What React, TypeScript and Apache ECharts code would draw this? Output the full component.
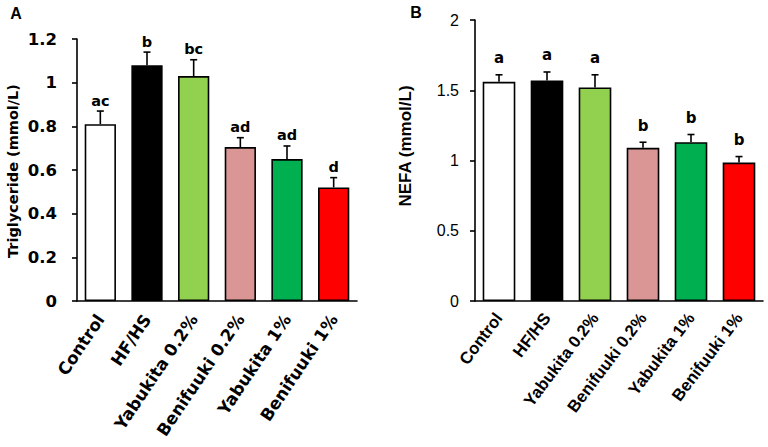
import React, { useEffect, useRef } from "react";
import * as echarts from "echarts";

const categories = ["Control", "HF/HS", "Yabukita 0.2%", "Benifuuki 0.2%", "Yabukita 1%", "Benifuuki 1%"];
const barColors = ["#FFFFFF", "#000000", "#92D050", "#D99694", "#00B050", "#FF0000"];

const tgMean = [0.81, 1.08, 1.03, 0.705, 0.65, 0.52];
const tgSE = [0.06, 0.06, 0.075, 0.043, 0.06, 0.045];
const tgLetters = ["ac", "b", "bc", "ad", "ad", "d"];

const nefaMean = [1.56, 1.57, 1.52, 1.09, 1.13, 0.985];
const nefaSE = [0.05, 0.06, 0.09, 0.04, 0.055, 0.043];
const nefaLetters = ["a", "a", "a", "b", "b", "b"];

const FA = "'DejaVu Sans', Verdana, sans-serif";
const FB = "'Liberation Sans', Arial, sans-serif";

function errSeries(xi: number, mean: number[], se: number[], letters: string[], font: string, fs: number, off: number) {
  return {
    type: "custom",
    xAxisIndex: xi,
    yAxisIndex: xi,
    z: 5,
    silent: true,
    data: mean.map((m, i) => [i, m, m + se[i], letters[i]]),
    renderItem: (params: any, api: any) => {
      const i = api.value(0);
      const p0 = api.coord([i, api.value(1)]);
      const p1 = api.coord([i, api.value(2)]);
      const letter = letters[params.dataIndex];
      return {
        type: "group",
        children: [
          { type: "line", shape: { x1: p0[0], y1: p0[1], x2: p1[0], y2: p1[1] }, style: { stroke: "#000", lineWidth: 1.6 } },
          { type: "line", shape: { x1: p1[0] - 3.5, y1: p1[1], x2: p1[0] + 3.5, y2: p1[1] }, style: { stroke: "#000", lineWidth: 1.6 } },
          {
            type: "text",
            x: p1[0],
            y: p1[1] - off,
            style: { text: letter, fontFamily: font, fontWeight: "bold", fontSize: fs, fill: "#000", align: "center", verticalAlign: "middle" },
          },
        ],
      };
    },
  };
}

export default function App() {
  const ref = useRef<HTMLDivElement>(null);
  useEffect(() => {
    document.body.style.margin = "0";
    const chart = echarts.init(ref.current!, null, { renderer: "svg" });
    const axisLine = { show: true, lineStyle: { color: "#000", width: 1.6 } };
    chart.setOption({
      animation: false,
      backgroundColor: "#fff",
      grid: [
        { left: 77, top: 39, width: 280, height: 262 },
        { left: 475, top: 20, width: 288, height: 281 },
      ],
      xAxis: [
        {
          type: "category", gridIndex: 0, data: categories,
          axisLine, axisTick: { show: false },
          axisLabel: { rotate: 56, margin: 15, interval: 0, fontFamily: FA, fontWeight: "bold", fontSize: 16.8, color: "#000" },
        },
        {
          type: "category", gridIndex: 1, data: categories,
          axisLine, axisTick: { show: false },
          axisLabel: { rotate: 53, margin: 14, interval: 0, fontFamily: FB, fontWeight: "bold", fontSize: 16.8, color: "#000" },
        },
      ],
      yAxis: [
        {
          type: "value", gridIndex: 0, min: 0, max: 1.2, interval: 0.2,
          axisLine, axisTick: { show: true, length: 5, lineStyle: { color: "#000", width: 1.6 } },
          splitLine: { show: false },
          axisLabel: { margin: 20, fontFamily: FA, fontWeight: "bold", fontSize: 16.5, color: "#000" },
        },
        {
          type: "value", gridIndex: 1, min: 0, max: 2, interval: 0.5,
          axisLine, axisTick: { show: true, length: 5, lineStyle: { color: "#000", width: 1.6 } },
          splitLine: { show: false },
          axisLabel: { margin: 16, fontFamily: FB, fontSize: 16, color: "#000" },
        },
      ],
      graphic: [
        { type: "text", x: 16, y: 13, style: { text: "A", fontFamily: FB, fontWeight: "bold", fontSize: 16, fill: "#000", align: "center", verticalAlign: "middle" } },
        { type: "text", x: 416, y: 12, style: { text: "B", fontFamily: FB, fontWeight: "bold", fontSize: 16, fill: "#000", align: "center", verticalAlign: "middle" } },
        { type: "text", x: 13, y: 171, rotation: Math.PI / 2, style: { text: "Triglyceride (mmol/L)", fontFamily: FA, fontWeight: "bold", fontSize: 14.5, fill: "#000", align: "center", verticalAlign: "middle" } },
        { type: "text", x: 405, y: 146, rotation: Math.PI / 2, style: { text: "NEFA (mmol/L)", fontFamily: FB, fontWeight: "bold", fontSize: 17, fill: "#000", align: "center", verticalAlign: "middle" } },
      ],
      series: [
        {
          type: "bar", xAxisIndex: 0, yAxisIndex: 0, barCategoryGap: "33%",
          data: tgMean.map((v, i) => ({ value: v, itemStyle: { color: barColors[i], borderColor: "#000", borderWidth: 1.6 } })),
        },
        {
          type: "bar", xAxisIndex: 1, yAxisIndex: 1, barCategoryGap: "32%",
          data: nefaMean.map((v, i) => ({ value: v, itemStyle: { color: barColors[i], borderColor: "#000", borderWidth: 1.6 } })),
        },
        errSeries(0, tgMean, tgSE, tgLetters, FA, 14.5, 10.5),
        errSeries(1, nefaMean, nefaSE, nefaLetters, FA, 15, 16.5),
      ],
    });
    return () => chart.dispose();
  }, []);
  return <div ref={ref} style={{ width: 768, height: 447 }} />;
}
